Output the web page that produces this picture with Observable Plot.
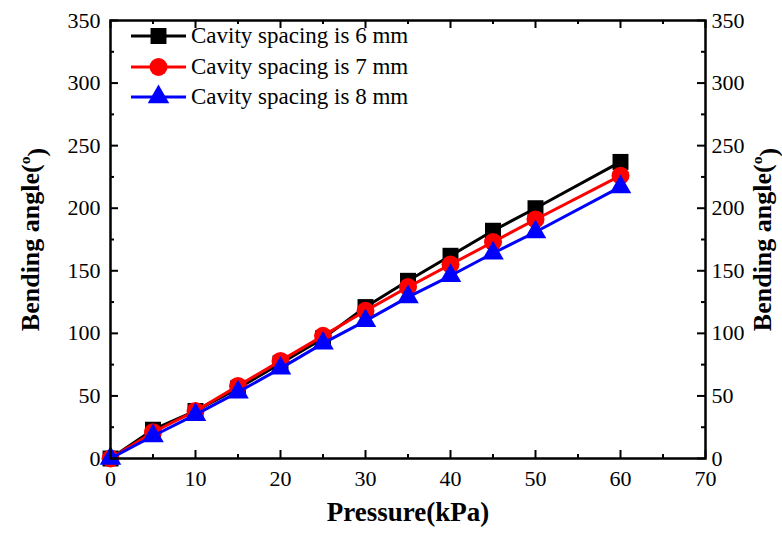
<!DOCTYPE html>
<html><head><meta charset="utf-8">
<script src="https://cdn.jsdelivr.net/npm/d3@7"></script>
<script src="https://cdn.jsdelivr.net/npm/@observablehq/plot@0.6"></script>
<style>
body{margin:0;background:#fff}
#wrap{position:relative;width:782px;height:535px}
#legend{position:absolute;left:131px;top:21px;font-family:"Liberation Serif","Times New Roman",serif;font-size:23px;color:#000}
.row{display:flex;align-items:center;height:30.5px;white-space:nowrap}
.row svg{margin-right:4px}
</style>
</head><body><div id="wrap"></div>
<script>
const pressure = [0, 5, 10, 15, 20, 25, 30, 35, 40, 45, 50, 60];
const angle6 = [0, 23, 38, 56, 76, 96, 121, 142, 162, 182, 200, 237];
const angle7 = [0, 21, 38, 58, 78, 98, 118, 137, 155, 173, 191, 226];
const angle8 = [0, 18, 35, 53, 72, 92, 110, 129, 146, 164, 181, 217];
const seriesNames = ["Cavity spacing is 6 mm", "Cavity spacing is 7 mm", "Cavity spacing is 8 mm"];
const seriesColors = ["#000000", "#ff0000", "#0000ff"];
const seriesSymbols = ["square", "circle", "triangle"];
const xTicks = [0, 10, 20, 30, 40, 50, 60, 70];
const xMinor = [5, 15, 25, 35, 45, 55, 65];
const yTicks = [0, 50, 100, 150, 200, 250, 300, 350];
const yMinor = [25, 75, 125, 175, 225, 275, 325];
const xTitle = "Pressure(kPa)";
const yTitle = "Bending angle()";

const seriesValues = [angle6, angle7, angle8];
const data = seriesValues.flatMap((vals, s) => pressure.map((p, i) => ({s, name: seriesNames[s], x: p, y: vals[i]})));

const FONT = "Liberation Serif";
const W = 782, H = 535, mL = 110, mR = 77, mT = 20, mB = 77;
const iw = W - mL - mR, ih = H - mT - mB;
const symR = {square: 9, circle: 9, triangle: 8};

const marks = [];
seriesNames.forEach((n, s) => {
  const d = data.filter(e => e.s === s);
  marks.push(Plot.line(d, {x: "x", y: "y", stroke: seriesColors[s], strokeWidth: 3}));
  marks.push(Plot.dot(d, {x: "x", y: "y", symbol: () => seriesSymbols[s], fill: seriesColors[s], r: symR[seriesSymbols[s]], stroke: "none"}));
});

const axisFont = {fontFamily: FONT, fontSize: 22, fill: "#000"};
const chart = Plot.plot({
  width: W, height: H,
  marginLeft: mL, marginRight: mR, marginTop: mT, marginBottom: mB,
  x: {domain: [0, 70]},
  y: {domain: [0, 350]},
  symbol: {domain: seriesSymbols, range: seriesSymbols},
  style: {fontFamily: FONT, fontSize: "22px", color: "#000", background: "#fff"},
  marks: [
    Plot.tickX(xTicks, {x: d => d, insetTop: ih - 8, strokeWidth: 2}),
    Plot.tickX(xTicks, {x: d => d, insetBottom: ih - 8, strokeWidth: 2}),
    Plot.tickX(xMinor, {x: d => d, insetTop: ih - 4, strokeWidth: 2}),
    Plot.tickX(xMinor, {x: d => d, insetBottom: ih - 4, strokeWidth: 2}),
    Plot.tickY(yTicks, {y: d => d, insetRight: iw - 8, strokeWidth: 2}),
    Plot.tickY(yTicks, {y: d => d, insetLeft: iw - 8, strokeWidth: 2}),
    Plot.tickY(yMinor, {y: d => d, insetRight: iw - 4, strokeWidth: 2}),
    Plot.tickY(yMinor, {y: d => d, insetLeft: iw - 4, strokeWidth: 2}),
    Plot.axisX(xTicks, {tickSize: 0, tickPadding: 12, label: null, ...axisFont}),
    Plot.axisY(yTicks, {anchor: "left", tickSize: 0, tickPadding: 10, label: null, ...axisFont}),
    Plot.axisY(yTicks, {anchor: "right", tickSize: 0, tickPadding: 6, label: null, ...axisFont}),
    ...marks,
    Plot.frame({stroke: "#000", strokeWidth: 2.5}),
    Plot.text([xTitle], {text: d => d, frameAnchor: "bottom", dy: 62, fontWeight: "bold", fontSize: 27, fontFamily: FONT}),
    Plot.text([yTitle], {text: d => d, frameAnchor: "left", dx: -80, rotate: -90, textAnchor: "middle", fontWeight: "bold", fontSize: 26, fontFamily: FONT}),
    Plot.text([yTitle], {text: d => d, frameAnchor: "right", dx: 57, rotate: -90, textAnchor: "middle", fontWeight: "bold", fontSize: 26, fontFamily: FONT})
  ]
});

d3.select(chart).selectAll("text").each(function() {
  if (this.textContent === yTitle) {
    const t = d3.select(this);
    t.text("Bending angle(");
    t.append("tspan").attr("dy", "-0.55em").attr("font-size", "0.6em").text("o");
    t.append("tspan").attr("dy", "0.55em").text(")");
  }
});

const wrap = document.getElementById("wrap");
wrap.appendChild(chart);

const legend = document.createElement("div");
legend.id = "legend";
wrap.appendChild(legend);
seriesNames.forEach((n, s) => {
  const row = document.createElement("div");
  row.className = "row";
  const svg = d3.create("svg").attr("width", 56).attr("height", 30);
  svg.append("line").attr("x1", 0).attr("x2", 55).attr("y1", 15).attr("y2", 15).attr("stroke", seriesColors[s]).attr("stroke-width", 3);
  const symType = {square: d3.symbolSquare, circle: d3.symbolCircle, triangle: d3.symbolTriangle}[seriesSymbols[s]];
  const r = symR[seriesSymbols[s]];
  svg.append("path").attr("transform", "translate(27.5,15)").attr("d", d3.symbol(symType, r * r * Math.PI)()).attr("fill", seriesColors[s]);
  row.appendChild(svg.node());
  const span = document.createElement("span");
  span.textContent = n;
  row.appendChild(span);
  legend.appendChild(row);
});
</script>
</body></html>
